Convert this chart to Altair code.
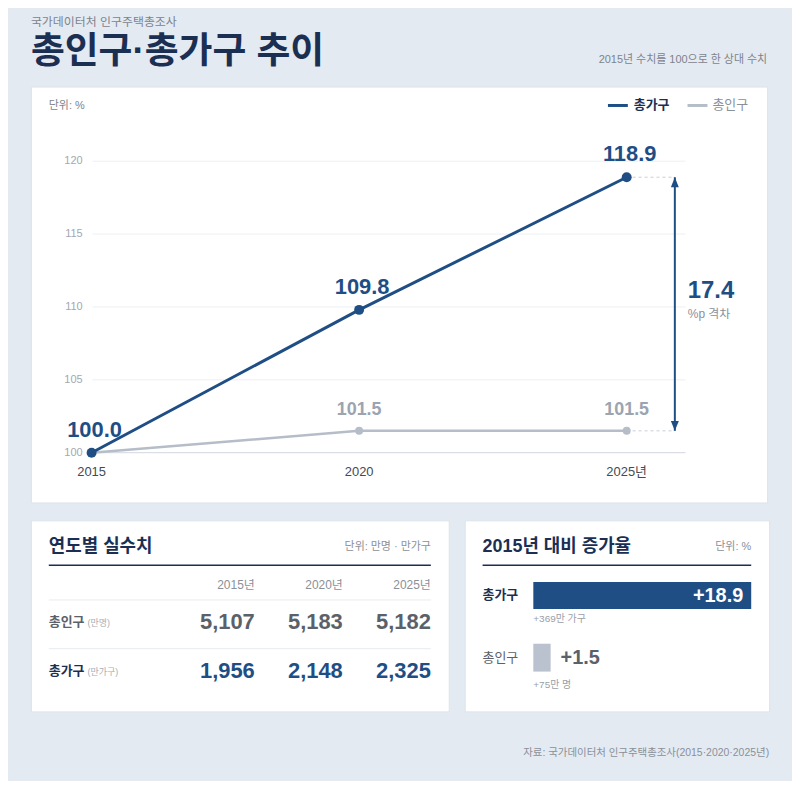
import altair as alt
import pandas as pd

# ---------------- data ----------------
years = [2015, 2020, 2025]
year_labels = ["2015", "2020", "2025년"]
households_idx = [100.0, 109.8, 118.9]
population_idx = [100.0, 101.5, 101.5]
y_ticks = [100, 105, 110, 115, 120]
table_year_labels = ["2015년", "2020년", "2025년"]
population_abs = [5107, 5183, 5182]
households_abs = [1956, 2148, 2325]
growth_names = ["총가구", "총인구"]
growth_values = [18.9, 1.5]
growth_notes = ["+369만 가구", "+75만 명"]
gap_value = 17.4

# ---------------- style ----------------
FONT = "Liberation Sans, Noto Sans CJK KR, sans-serif"
NAVY = "#1f4e85"
DARK = "#1b2f52"
GRAY_LINE = "#b5bdc8"
GRAY_TXT = "#8a9099"
BG = "#e4eaf2"

W1, H1 = 740, 418
W2, H2 = 420, 192
W3, H3 = 306, 192

one = pd.DataFrame({"a": [0]})

# ================= top panel =================
xs = alt.Scale(domain=[2015, 2026.1], range=[61, 658], nice=False, zero=False)
ys = alt.Scale(domain=[100, 120], range=[368, 75], nice=False, zero=False)
gap_x = 2025.9

df_ticks = pd.DataFrame({"v": y_ticks})
df_years = pd.DataFrame({"year": years, "label": year_labels})
df_hh = pd.DataFrame({"year": years, "v": households_idx})
df_pop = pd.DataFrame({"year": years, "v": population_idx})
df_ends = pd.DataFrame({"x0": [years[-1], years[-1]], "x1": [gap_x, gap_x],
                        "v": [households_idx[-1], population_idx[-1]]})
df_arrow = pd.DataFrame({"x": [gap_x], "y1": [households_idx[-1]], "y2": [population_idx[-1]],
                         "mid": [(households_idx[-1] + population_idx[-1]) / 2], "gap": [gap_value]})

grid = alt.Chart(df_ticks).mark_rule(strokeWidth=1).encode(
    y=alt.Y("v:Q", scale=ys, axis=None),
    x=alt.value(62), x2=alt.value(658),
    color=alt.condition(alt.datum.v == 100, alt.value("#d2d7de"), alt.value("#eceff3")),
)
tick_labels = alt.Chart(df_ticks).mark_text(align="right", baseline="middle", fontSize=11,
                                            color="#a3a8b0").encode(
    y=alt.Y("v:Q", scale=ys, axis=None), x=alt.value(52), text=alt.Text("v:Q"))
x_labels = alt.Chart(df_years).mark_text(baseline="middle", fontSize=13, color="#444a52").encode(
    x=alt.X("year:Q", scale=xs, axis=None), y=alt.value(387), text="label:N")

pop_line = alt.Chart(df_pop).mark_line(color=GRAY_LINE, strokeWidth=2.5).encode(
    x=alt.X("year:Q", scale=xs, axis=None), y=alt.Y("v:Q", scale=ys, axis=None))
pop_pts = alt.Chart(df_pop).mark_point(filled=True, color=GRAY_LINE, size=64, opacity=1).encode(
    x=alt.X("year:Q", scale=xs, axis=None), y=alt.Y("v:Q", scale=ys, axis=None))
pop_lbl = alt.Chart(df_pop).transform_filter(alt.datum.year > 2015).mark_text(
    fontSize=18, fontWeight="bold", color="#9ba4b0", dy=-21).encode(
    x=alt.X("year:Q", scale=xs, axis=None), y=alt.Y("v:Q", scale=ys, axis=None),
    text=alt.Text("v:Q", format=".1f"))

hh_line = alt.Chart(df_hh).mark_line(color=NAVY, strokeWidth=3).encode(
    x=alt.X("year:Q", scale=xs, axis=None), y=alt.Y("v:Q", scale=ys, axis=None))
hh_pts = alt.Chart(df_hh).mark_point(filled=True, color=NAVY, size=100, opacity=1).encode(
    x=alt.X("year:Q", scale=xs, axis=None), y=alt.Y("v:Q", scale=ys, axis=None))
hh_lbl = alt.Chart(df_hh).mark_text(fontSize=22, fontWeight="bold", color=NAVY, dy=-23, dx=3).encode(
    x=alt.X("year:Q", scale=xs, axis=None), y=alt.Y("v:Q", scale=ys, axis=None),
    text=alt.Text("v:Q", format=".1f"))

dash = alt.Chart(df_ends).mark_rule(color="#c9ced6", strokeDash=[3, 3], strokeWidth=1).encode(
    x=alt.X("x0:Q", scale=xs, axis=None), x2="x1:Q", y=alt.Y("v:Q", scale=ys, axis=None))
shaft = alt.Chart(df_arrow).mark_rule(color=NAVY, strokeWidth=2).encode(
    x=alt.X("x:Q", scale=xs, axis=None), y=alt.Y("y1:Q", scale=ys, axis=None), y2="y2:Q")
head_up = alt.Chart(df_arrow).mark_point(shape="M0,0L-0.4,1L0.4,1Z", filled=True, size=400,
                                         color=NAVY, opacity=1).encode(
    x=alt.X("x:Q", scale=xs, axis=None), y=alt.Y("y1:Q", scale=ys, axis=None))
head_dn = alt.Chart(df_arrow).mark_point(shape="M0,0L-0.4,-1L0.4,-1Z", filled=True, size=400,
                                         color=NAVY, opacity=1).encode(
    x=alt.X("x:Q", scale=xs, axis=None), y=alt.Y("y2:Q", scale=ys, axis=None))
gap_txt = alt.Chart(df_arrow).mark_text(align="left", baseline="middle", fontSize=24,
                                        fontWeight="bold", color=NAVY, dx=13, dy=-13).encode(
    x=alt.X("x:Q", scale=xs, axis=None), y=alt.Y("mid:Q", scale=ys, axis=None),
    text=alt.Text("gap:Q", format=".1f"))
gap_sub = alt.Chart(df_arrow).mark_text(align="left", baseline="middle", fontSize=12,
                                        color=GRAY_TXT, dx=13, dy=10, text="%p 격차").encode(
    x=alt.X("x:Q", scale=xs, axis=None), y=alt.Y("mid:Q", scale=ys, axis=None))


def txt(t, x, y, size=11, color=GRAY_TXT, weight="normal", align="left"):
    return alt.Chart(one).mark_text(text=t, align=align, baseline="middle", fontSize=size,
                                    color=color, fontWeight=weight).encode(
        x=alt.value(x), y=alt.value(y))


def rule(x1, x2, y, color, w=1):
    return alt.Chart(one).mark_rule(color=color, strokeWidth=w).encode(
        x=alt.value(x1), x2=alt.value(x2), y=alt.value(y))


top_annot = [
    txt("국가데이터처 인구주택총조사", 0, -65, 12, "#7d838c"),
    txt("총인구·총가구 추이", 0, -35, 37, DARK, "bold"),
    txt("2015년 수치를 100으로 한 상대 수치", W1, -27, 11, "#7d838c", align="right"),
    txt("단위: %", 18, 20, 11, "#7d838c"),
    rule(580, 600, 19, NAVY, 3),
    txt("총가구", 606, 19, 13, DARK, "bold"),
    rule(660, 680, 19, GRAY_LINE, 3),
    txt("총인구", 685, 19, 13, GRAY_TXT),
]

top = alt.layer(grid, tick_labels, x_labels, dash, shaft, head_up, head_dn,
                pop_line, pop_pts, pop_lbl, hh_line, hh_pts, hh_lbl,
                gap_txt, gap_sub, *top_annot).properties(width=W1, height=H1)

# ================= table panel =================
ts = alt.Scale(domain=[2015, 2025], range=[225, 402], nice=False, zero=False)
df_tab = pd.DataFrame({"year": years, "label": table_year_labels,
                       "pop": population_abs, "hh": households_abs})
tab_head = alt.Chart(df_tab).mark_text(align="right", baseline="middle", fontSize=12,
                                       color=GRAY_TXT).encode(
    x=alt.X("year:Q", scale=ts, axis=None), y=alt.value(65), text="label:N")
tab_pop = alt.Chart(df_tab).mark_text(align="right", baseline="middle", fontSize=22,
                                      fontWeight="bold", color="#5b6169").encode(
    x=alt.X("year:Q", scale=ts, axis=None), y=alt.value(102), text=alt.Text("pop:Q", format=","))
tab_hh = alt.Chart(df_tab).mark_text(align="right", baseline="middle", fontSize=22,
                                     fontWeight="bold", color=NAVY).encode(
    x=alt.X("year:Q", scale=ts, axis=None), y=alt.value(151), text=alt.Text("hh:Q", format=","))

table = alt.layer(
    txt("연도별 실수치", 18, 27, 18, DARK, "bold"),
    txt("단위: 만명 · 만가구", 402, 27, 11, GRAY_TXT, align="right"),
    rule(18, 402, 45, DARK, 1.5),
    rule(18, 402, 80, "#e8ebef"),
    rule(18, 402, 129, "#e8ebef"),
    tab_head, tab_pop, tab_hh,
    txt("총인구", 18, 102, 13, "#5b6169", "bold"),
    txt("(만명)", 57, 103, 9, "#a9aeb5"),
    txt("총가구", 18, 151, 13, DARK, "bold"),
    txt("(만가구)", 57, 152, 9, "#a9aeb5"),
).properties(width=W2, height=H2)

# ================= bars panel =================
bs = alt.Scale(domain=[0, growth_values[0]], range=[69, 288], nice=False, zero=False)
df_g = pd.DataFrame({"name": growth_names, "v": growth_values, "note": growth_notes})

bar_hh = alt.Chart(df_g).transform_filter(alt.datum.name == growth_names[0]).mark_bar(
    color=NAVY).encode(x=alt.X("v:Q", scale=bs, axis=None), x2=alt.datum(0),
                       y=alt.value(62), y2=alt.value(89))
bar_hh_t = alt.Chart(df_g).transform_filter(alt.datum.name == growth_names[0]).mark_text(
    align="right", baseline="middle", fontSize=20, fontWeight="bold", color="white", dx=-8).encode(
    x=alt.X("v:Q", scale=bs, axis=None), y=alt.value(76), text=alt.Text("v:Q", format="+.1f"))
bar_pop = alt.Chart(df_g).transform_filter(alt.datum.name == growth_names[1]).mark_bar(
    color="#b9c2ce").encode(x=alt.X("v:Q", scale=bs, axis=None), x2=alt.datum(0),
                            y=alt.value(124), y2=alt.value(152))
bar_pop_t = alt.Chart(df_g).transform_filter(alt.datum.name == growth_names[1]).mark_text(
    align="left", baseline="middle", fontSize=20, fontWeight="bold", color="#5b6169", dx=10).encode(
    x=alt.X("v:Q", scale=bs, axis=None), y=alt.value(138), text=alt.Text("v:Q", format="+.1f"))

bars = alt.layer(
    txt("2015년 대비 증가율", 18, 27, 18, DARK, "bold"),
    txt("단위: %", 288, 27, 11, GRAY_TXT, align="right"),
    rule(18, 288, 45, DARK, 1.5),
    bar_hh, bar_hh_t, bar_pop, bar_pop_t,
    txt(growth_names[0], 18, 75, 13, DARK, "bold"),
    txt(growth_names[1], 18, 138, 13, "#5b6169"),
    txt(growth_notes[0], 69, 99, 10, "#9aa0a8"),
    txt(growth_notes[1], 69, 165, 10, "#9aa0a8"),
    txt("자료: 국가데이터처 인구주택총조사(2015·2020·2025년)", W3, 234, 10.5, "#8a9099", align="right"),
).properties(width=W3, height=H3)

chart = alt.vconcat(
    top,
    alt.hconcat(table, bars, spacing=14),
    spacing=16,
).properties(
    background=BG,
    padding={"left": 22, "top": 5, "right": 22, "bottom": 20},
).configure(font=FONT).configure_view(fill="white", stroke="#dde3eb", strokeWidth=1)

chart.save("out.html", embed_options={"renderer": "svg", "actions": False})
